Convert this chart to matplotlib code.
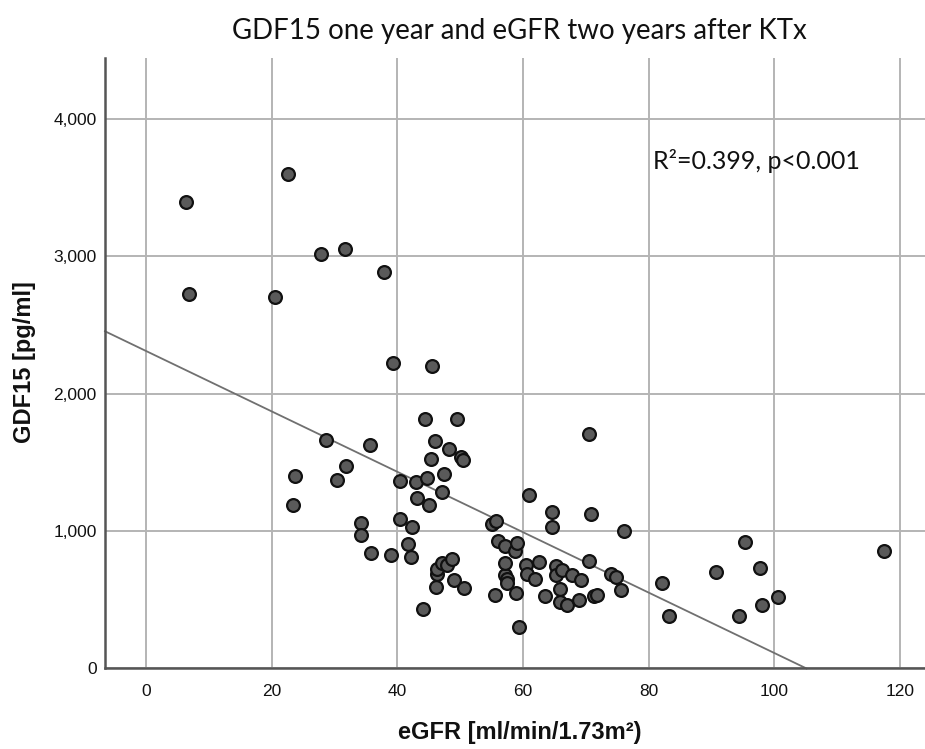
import matplotlib
matplotlib.use("Agg")
import matplotlib.pyplot as plt
from matplotlib import font_manager
from matplotlib.ticker import FuncFormatter
import numpy as np

# eGFR two years after KTx (ml/min/1.73m2) and GDF15 one year after (pg/ml)
egfr = [6.4, 6.8, 20.5, 22.7, 23.5, 23.7, 27.8, 28.7, 30.4, 31.7,
        31.8, 34.3, 34.3, 35.7, 35.8, 37.9, 39.0, 39.3, 40.4, 40.5,
        41.7, 42.2, 42.4, 43.0, 43.1, 44.1, 44.5, 44.7, 45.1, 45.4,
        45.6, 46.0, 46.2, 46.3, 46.4, 47.2, 47.2, 47.4, 47.9, 48.3,
        48.7, 49.1, 49.6, 50.1, 50.4, 50.6, 55.1, 55.6, 55.7, 56.0,
        57.1, 57.1, 57.2, 57.5, 57.5, 58.8, 58.9, 59.0, 59.4, 60.5,
        60.7, 61.0, 61.9, 62.6, 63.6, 64.7, 64.7, 65.3, 65.2, 65.9,
        65.9, 66.3, 67.0, 67.8, 68.9, 69.3, 70.5, 70.5, 70.9, 71.4,
        71.8, 74.0, 74.9, 75.6, 76.1, 82.2, 83.3, 90.7, 94.4, 95.4,
        97.7, 98.1, 100.6, 117.4]
gdf15 = [3392, 2727, 2702, 3599, 1190, 1399, 3012, 1661, 1370, 3054,
         1474, 1055, 968, 1622, 842, 2884, 827, 2225, 1363, 1089,
         907, 810, 1026, 1355, 1237, 430, 1818, 1387, 1188, 1522,
         2201, 1653, 590, 687, 721, 764, 1285, 1411, 754, 1600,
         796, 641, 1811, 1535, 1520, 583, 1050, 532, 1072, 927,
         890, 680, 764, 648, 624, 856, 546, 910, 304, 752,
         689, 1261, 648, 772, 527, 1140, 1028, 747, 682, 578,
         481, 714, 461, 682, 498, 643, 1702, 783, 1121, 527,
         534, 685, 667, 573, 999, 624, 379, 699, 384, 919,
         728, 464, 522, 854]

# linear fit as drawn in the figure
fit_intercept = 2310
fit_slope = -21.97
annotation = "R\u00b2=0.399, p<0.001"

x_ticks = [0, 20, 40, 60, 80, 100, 120]
y_ticks = [0, 1000, 2000, 3000, 4000]


def pick(*names):
    have = {f.name for f in font_manager.fontManager.ttflist}
    for n in names:
        if n in have:
            return n
    return "DejaVu Sans"


tick_font = pick("Liberation Sans Narrow", "Liberation Sans")
label_font = pick("Liberation Sans")
title_font = pick("Lato", "Open Sans")

fig = plt.figure(figsize=(9.25, 7.49), dpi=100)
ax = fig.add_axes([0.1135, 0.1075, 0.8865, 0.815])

xmin, xmax = -6.5, 124.0
ax.set_xlim(xmin, xmax)
ax.set_ylim(0, 4440)

ax.set_xticks(x_ticks)
ax.set_yticks(y_ticks)
ax.yaxis.set_major_formatter(FuncFormatter(lambda v, p: f"{int(v):,}"))
ax.grid(True, color="#b4b4b4", linewidth=1.4)
ax.set_axisbelow(True)

for s in ("top", "right"):
    ax.spines[s].set_visible(False)
for s in ("left", "bottom"):
    ax.spines[s].set_color("#555555")
    ax.spines[s].set_linewidth(1.8)

ax.tick_params(length=0, labelsize=12.5, colors="#111111")
ax.tick_params(axis="x", pad=11)
ax.tick_params(axis="y", pad=6)
for lab in ax.get_xticklabels() + ax.get_yticklabels():
    lab.set_fontfamily(tick_font)

# regression line, from the left edge down to where it reaches zero
x_end = -fit_intercept / fit_slope
xl = np.array([xmin, x_end])
ax.plot(xl, fit_intercept + fit_slope * xl, color="#707070", linewidth=1.3,
        zorder=2, clip_on=False)

ax.scatter(egfr, gdf15, s=85, facecolor="#5a5a5a", edgecolor="#111111",
           linewidth=1.6, zorder=3)

ax.text(80.7, 3690, annotation, fontsize=18, family=title_font,
        color="#111111", va="center")

fig.text(0.562, 0.958, "GDF15 one year and eGFR two years after KTx",
         ha="center", va="center", fontsize=19.9, family=title_font,
         color="#111111")
fig.text(0.562, 0.022, "eGFR [ml/min/1.73m\u00b2)", ha="center", va="center",
         fontsize=17, fontweight="bold", family=label_font, color="#111111")
fig.text(0.026, 0.516, "GDF15 [pg/ml]", ha="center", va="center",
         rotation=90, fontsize=17, fontweight="bold", family=label_font,
         color="#111111")

fig.savefig("out.png", dpi=100)
